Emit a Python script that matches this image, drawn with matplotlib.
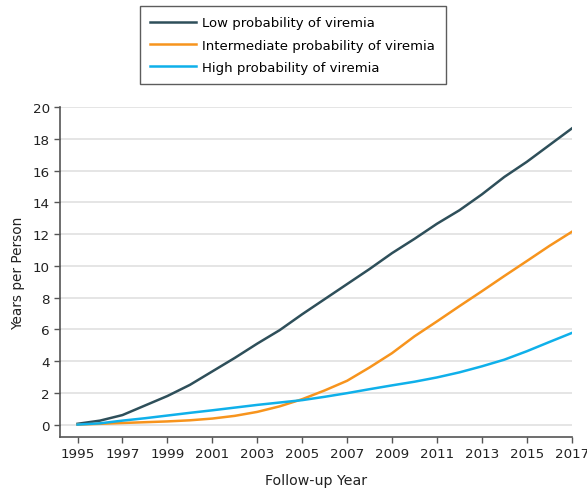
import matplotlib
matplotlib.use("Agg")
import matplotlib.pyplot as plt

years = list(range(1995, 2018))
low = [0.05, 0.25, 0.6, 1.2, 1.8, 2.5, 3.35, 4.2, 5.1, 5.95, 6.95, 7.9,
       8.85, 9.8, 10.8, 11.7, 12.65, 13.5, 14.5, 15.6, 16.55, 17.6, 18.65]
intermediate = [0.0, 0.05, 0.1, 0.15, 0.2, 0.27, 0.38, 0.55, 0.8, 1.15, 1.6, 2.15,
                2.76, 3.6, 4.5, 5.56, 6.5, 7.46, 8.4, 9.36, 10.3, 11.25, 12.14]
high = [0.0, 0.08, 0.25, 0.4, 0.57, 0.74, 0.9, 1.07, 1.24, 1.39, 1.54, 1.75,
        1.98, 2.23, 2.47, 2.7, 2.97, 3.29, 3.67, 4.09, 4.62, 5.2, 5.77]
labels = ["Low probability of viremia", "Intermediate probability of viremia",
          "High probability of viremia"]
colors = ["#2e4f5a", "#f7941d", "#0fb0ea"]

plt.rcParams["font.family"] = ["DejaVu Sans"]
fig = plt.figure(figsize=(5.87, 4.89), dpi=100)
ax = fig.add_axes([0.103, 0.105, 0.871, 0.674])

for vals, lab, col in zip([low, intermediate, high], labels, colors):
    ax.plot(years, vals, color=col, lw=1.8, label=lab)

ax.set_xlim(1994.24, 2017)
ax.set_ylim(-0.76, 20)
ax.set_xticks(range(1995, 2018, 2))
ax.set_yticks(range(0, 21, 2))
ax.yaxis.grid(True, color="#e0e0e0", lw=1.2)
ax.set_axisbelow(True)
for s in ["top", "right"]:
    ax.spines[s].set_visible(False)
for s in ["left", "bottom"]:
    ax.spines[s].set_color("#555555")
    ax.spines[s].set_linewidth(1.2)
ax.tick_params(axis="both", colors="#555555", labelcolor="#222222", labelsize=9.7,
               length=4, width=1.0)
ax.set_xlabel("Follow-up Year", fontsize=10.2, color="#222222", labelpad=9)
ax.set_ylabel("Years per Person", fontsize=9.8, color="#222222", labelpad=6)

leg = fig.legend(loc="upper left", bbox_to_anchor=(0.238, 0.986), fontsize=9.5,
                 frameon=True, fancybox=False, handlelength=3.5, borderpad=0.8,
                 labelspacing=0.69, handletextpad=0.45, borderaxespad=0)
leg.get_frame().set_edgecolor("#333333")
leg.get_frame().set_linewidth(1.0)

fig.savefig("out.png", dpi=100)
